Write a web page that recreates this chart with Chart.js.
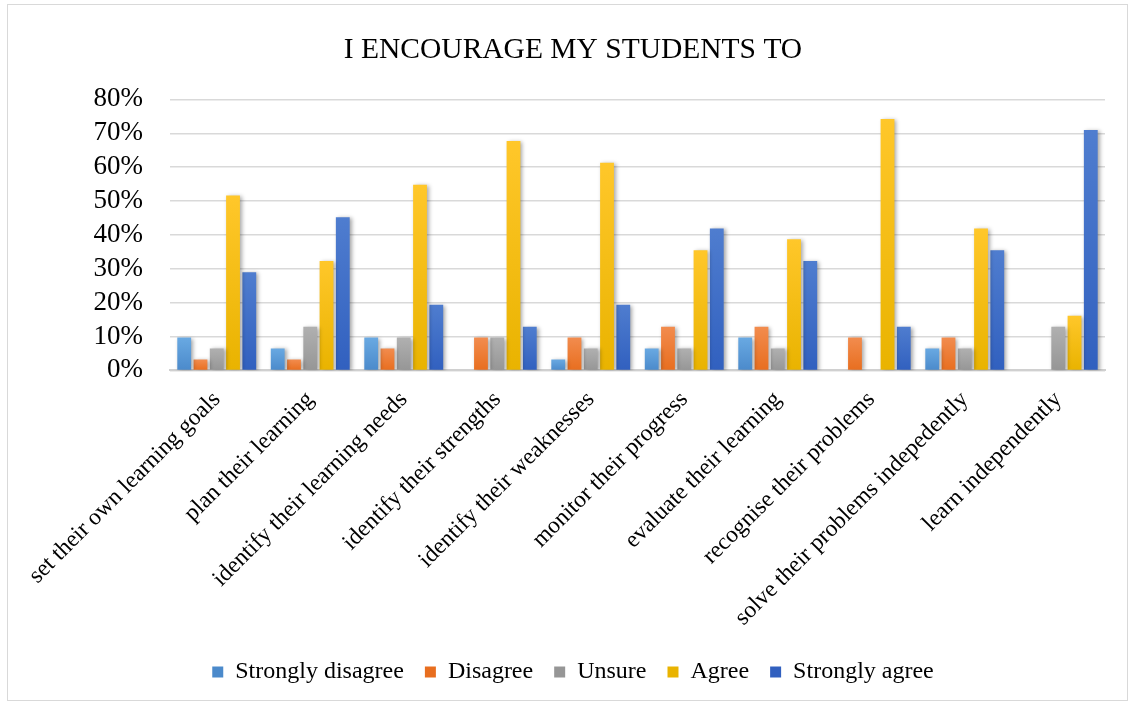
<!DOCTYPE html>
<html>
<head>
<meta charset="utf-8">
<script src="https://cdn.jsdelivr.net/npm/chart.js@4.4.1/dist/chart.umd.min.js"></script>
<style>
  html,body{margin:0;padding:0;background:#fff;}
  #frame{position:absolute;left:7px;top:4px;width:1119px;height:695px;border:1px solid #d9d9d9;}
</style>
</head>
<body>
<div id="frame"><canvas id="myChart"></canvas></div>
<script>
// categories and answers (% of respondents)
const categories=['set their own learning goals','plan their learning','identify their learning needs',
  'identify their strengths','identify their weaknesses','monitor their progress','evaluate their learning',
  'recognise their problems','solve their problems indepedently','learn independently'];
const stronglyDisagree=[9.7,6.5,9.7,0,3.2,6.5,9.7,0,6.5,0];
const disagree=[3.2,3.2,6.5,9.7,9.7,12.9,12.9,9.7,9.7,0];
const unsure=[6.5,12.9,9.7,9.7,6.5,6.5,6.5,0,6.5,12.9];
const agree=[51.6,32.3,54.8,67.7,61.3,35.5,38.7,74.2,41.9,16.1];
const stronglyAgree=[29.0,45.2,19.4,12.9,19.4,41.9,32.3,12.9,35.5,71.0];
const yTicks=[0,10,20,30,40,50,60,70,80];

const serif="'Liberation Serif','Times New Roman',serif";

//bar gradient: light on top, darker at the base
function grad(base,light,dark){
  return (c)=>{
    const chart=c.chart;
    if(!chart.chartArea||c.type!=='data') return base;
    const y=chart.scales.y;
    const top=y.getPixelForValue(c.raw);
    const bottom=y.getPixelForValue(0);
    if(!isFinite(top)||bottom-top<1) return base;
    const g=chart.ctx.createLinearGradient(0,top,0,bottom);
    g.addColorStop(0,light);
    g.addColorStop(1,dark);
    return g;
  };
}

const shadow={
  id:'shadow',
  beforeDatasetsDraw(chart){
    const ctx=chart.ctx;
    ctx.save();
    ctx.shadowColor='rgba(0,0,0,0.35)';
    ctx.shadowBlur=4;
    ctx.shadowOffsetX=2;
    ctx.shadowOffsetY=1;
  },
  afterDatasetsDraw(chart){chart.ctx.restore();}
};

const ctx=document.getElementById('myChart');
new Chart(ctx,{
  type:'bar',
  data:{
    labels:categories,
    datasets:[
      {label:'Strongly disagree',data:stronglyDisagree,backgroundColor:grad('#5B9BD5','#69a9e2','#4b8acb')},
      {label:'Disagree',data:disagree,backgroundColor:grad('#ED7D31','#f28c4e','#e86e1f')},
      {label:'Unsure',data:unsure,backgroundColor:grad('#A5A5A5','#b0b0b0','#969696')},
      {label:'Agree',data:agree,backgroundColor:grad('#FFC000','#ffc72a','#e9b300')},
      {label:'Strongly agree',data:stronglyAgree,backgroundColor:grad('#4472C4','#4f7dcf','#3160bf')}
    ]
  },
  options:{
    responsive:true,
    maintainAspectRatio:false,
    animation:false,
    layout:{padding:{left:33,right:22,top:8,bottom:6}},
    datasets:{bar:{categoryPercentage:0.87,barPercentage:0.85}},
    plugins:{
      title:{
        display:true,
        text:'I ENCOURAGE MY STUDENTS TO',
        color:'#000',
        font:{family:serif,size:29.5,weight:'normal'},
        padding:{top:20,bottom:31}
      },
      legend:{
        position:'bottom',
        labels:{
          color:'#000',
          font:{family:serif,size:24},
          boxWidth:11,
          boxHeight:11,
          padding:21
        }
      },
      tooltip:{enabled:false}
    },
    scales:{
      x:{
        grid:{display:false},
        border:{color:'#d0d0d0',width:2},
        ticks:{
          color:'#000',
          font:{family:serif,size:23.5},
          maxRotation:45,
          minRotation:45,
          autoSkip:false,
          padding:7.5
        }
      },
      y:{
        min:0,
        max:80,
        afterBuildTicks:(axis)=>{axis.ticks=yTicks.map(v=>({value:v}));},
        afterFit:(axis)=>{axis.width=129;},
        grid:{color:'#d9d9d9',lineWidth:1.5,drawTicks:false},
        border:{display:false},
        ticks:{
          color:'#000',
          font:{family:serif,size:27},
          padding:27,
          autoSkip:false,
          callback:(v)=>v+'%'
        }
      }
    }
  },
  plugins:[shadow]
});
</script>
</body>
</html>
